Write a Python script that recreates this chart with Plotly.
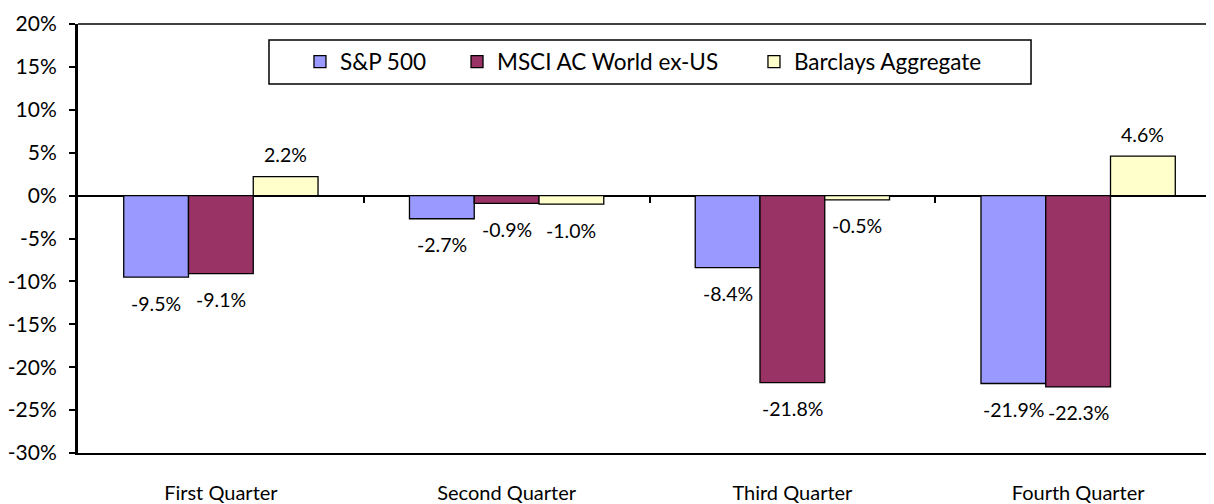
import plotly.graph_objects as go

quarters = ["First Quarter", "Second Quarter", "Third Quarter", "Fourth Quarter"]
series_names = ["S&P 500", "MSCI AC World ex-US", "Barclays Aggregate"]
sp500 = [-9.5, -2.7, -8.4, -21.9]
msci = [-9.1, -0.9, -21.8, -22.3]
barclays = [2.2, -1.0, -0.5, 4.6]
colors = ["#9999FF", "#993366", "#FFFFCC"]
y_ticks = [20, 15, 10, 5, 0, -5, -10, -15, -20, -25, -30]
y_tick_text = [f"{t}%" for t in y_ticks]

FONT = "Lato, Open Sans, sans-serif"
series = [sp500, msci, barclays]
legend_ids = ["legend", "legend2", "legend3"]
legend_x = [0.1942, 0.3316, 0.5914]

fig = go.Figure()
for name, vals, col, lg in zip(series_names, series, colors, legend_ids):
    fig.add_trace(go.Bar(
        x=quarters, y=vals, name=name, legend=lg,
        marker=dict(color=col, line=dict(color="#000000", width=1.3)),
    ))

# data labels
bar_px = 64.5
offsets = [-bar_px, 0, bar_px]
for vals, off in zip(series, offsets):
    for q, v in zip(quarters, vals):
        fig.add_annotation(
            x=q, y=v, xref="x", yref="y", text=f"{v:.1f}%",
            showarrow=False, xshift=off,
            yshift=(22 if v >= 0 else -26), yanchor="middle",
            font=dict(family=FONT, size=19.5, color="#000"),
        )

# secondary axis for boundary ticks on the zero line
fig.add_trace(go.Scatter(x=[-0.5, 3.5], y=[0, 0], xaxis="x2", mode="lines",
                         line=dict(width=0), showlegend=False, hoverinfo="skip"))

legend_common = dict(
    orientation="h", xanchor="left", y=0.9114, yanchor="middle",
    borderwidth=0, bgcolor="rgba(0,0,0,0)",
    font=dict(family=FONT, size=22.5, color="#000"),
)
layout_legends = {}
for lg, lx in zip(legend_ids, legend_x):
    layout_legends[lg] = dict(legend_common, x=lx)

fig.update_layout(
    width=1213, height=496,
    margin=dict(l=70, r=0, t=16, b=51, autoexpand=False),
    paper_bgcolor="white", plot_bgcolor="white",
    barmode="group", bargap=0.32, bargroupgap=0,
    font=dict(family=FONT, size=21, color="#000"),
    showlegend=True,
    **layout_legends,
    xaxis=dict(
        type="category", showline=True, linecolor="#000", linewidth=1.5,
        mirror=False, ticks="", showgrid=False, automargin=False,
        tickfont=dict(family=FONT, size=20, color="#000"),
        ticklabelstandoff=21,
    ),
    xaxis2=dict(
        overlaying="x", anchor="free", position=0.6, range=[-0.5, 3.5],
        showline=False, showgrid=False, zeroline=False, automargin=False,
        tickmode="array", tickvals=[0.5, 1.5, 2.5, 3.5], ticks="outside",
        ticklen=6, tickwidth=1.5, tickcolor="#000", showticklabels=False,
        side="bottom",
    ),
    yaxis=dict(
        range=[-30, 20], tickmode="array", tickvals=y_ticks, ticktext=y_tick_text,
        showline=True, linecolor="#000", linewidth=3, automargin=False,
        ticks="outside", ticklen=6, tickwidth=1.5, tickcolor="#000",
        showgrid=False, zeroline=True, zerolinecolor="#000", zerolinewidth=2,
        tickfont=dict(family=FONT, size=21, color="#000"),
        ticklabelstandoff=8,
    ),
    shapes=[
        # top border of the plot area
        dict(type="line", xref="paper", yref="paper", x0=0, x1=1, y0=1, y1=1,
             line=dict(color="#000", width=1.5)),
        # legend box
        dict(type="rect", xref="paper", yref="paper", x0=0.1671, x1=0.8338,
             y0=0.8601, y1=0.9627, line=dict(color="#000", width=1.5),
             fillcolor="rgba(0,0,0,0)", layer="above"),
    ],
)

fig.write_html(
    "out.html",
    post_script="document.documentElement.style.overflow='hidden';document.body.style.overflow='hidden';",
)
